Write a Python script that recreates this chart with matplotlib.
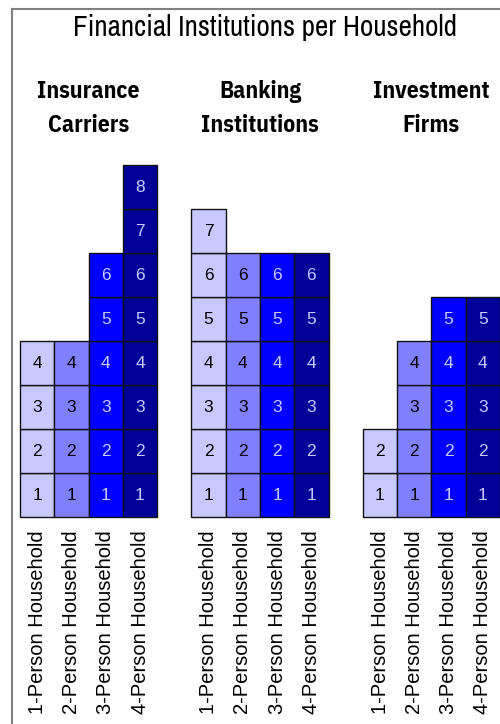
import matplotlib
matplotlib.use("Agg")
import matplotlib.pyplot as plt
from matplotlib.patches import Rectangle
from matplotlib.lines import Line2D

# data
groups = ["Insurance\nCarriers", "Banking\nInstitutions", "Investment\nFirms"]
households = ["1-Person Household", "2-Person Household",
              "3-Person Household", "4-Person Household"]
insurance = [4, 4, 6, 8]
banking = [7, 6, 6, 6]
investment = [2, 4, 5, 5]
counts = [insurance, banking, investment]

fills = ["#c8c8ff", "#8080ff", "#0000ff", "#000099"]
txt_colors = ["black", "black", "#c8c8ff", "#c8c8ff"]

narrow = ["Archivo Narrow", "Roboto Condensed", "Liberation Sans", "DejaVu Sans"]
narrow_bold = ["IBM Plex Sans Condensed", "Fira Sans Condensed", "Barlow Condensed",
               "Archivo Narrow", "DejaVu Sans"]

W, H = 500, 724
fig = plt.figure(figsize=(W / 100, H / 100), dpi=100)

# axes: x and y in cell units (one cell ~34.3 x 44 px)
ax = fig.add_axes([20 / W, (H - 517) / H, 480 / W, 367 / H])
ax.set_xlim(0, 14)
ax.set_ylim(0, 367 / 44)
ax.axis("off")

for g, vals in enumerate(counts):
    for c, n in enumerate(vals):
        x = g * 5 + c
        for k in range(n):
            ax.add_patch(Rectangle((x, k), 1, 1, facecolor=fills[c],
                                   edgecolor="#111111", lw=1.0, clip_on=False))
            ax.text(x + 0.5, k + 0.5, str(k + 1), ha="center", va="center",
                    fontsize=12.5, color=txt_colors[c], family="Liberation Sans")
        ax.text(x + 0.5, -0.3, households[c], rotation=90, ha="center",
                va="top", fontsize=14.5, family="Liberation Sans",
                clip_on=False)
    ax.text(g * 5 + 2, 9.93, groups[g], ha="center", va="top",
            fontsize=17, fontweight="bold", family=narrow_bold,
            linespacing=1.6, clip_on=False)

fig.text(265 / W, 1 - 14 / H, "Financial Institutions per Household",
         ha="center", va="top", fontsize=21, family=narrow)

# frame lines (top and left)
fig.add_artist(Line2D([11.5 / W, 1], [1 - 9 / H, 1 - 9 / H], color="#808080", lw=1.5))
fig.add_artist(Line2D([11.5 / W, 11.5 / W], [0, 1 - 9 / H], color="#808080", lw=1.5))

fig.savefig("out.png", dpi=100)
